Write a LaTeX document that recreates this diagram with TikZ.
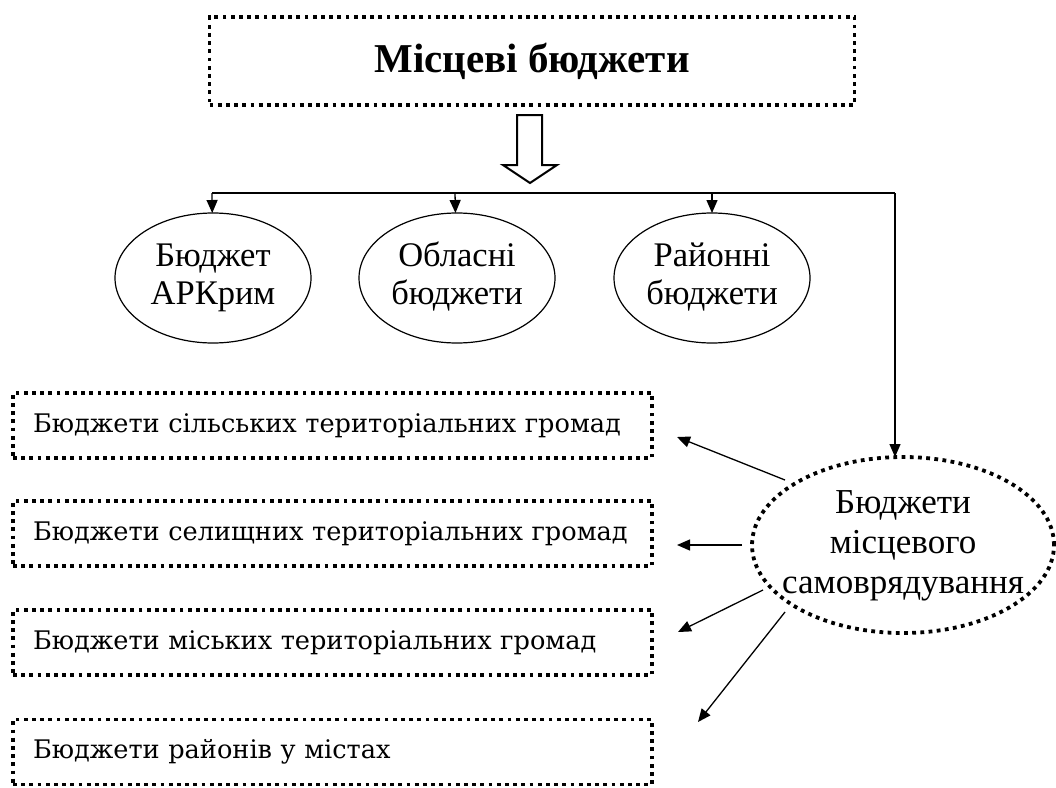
\documentclass[tikz,border=0pt]{standalone}
\usepackage{fontspec}
\setmainfont{Liberation Serif}
\newfontfamily\boxfont{DejaVu Serif}
\usetikzlibrary{shapes.geometric,arrows.meta}
\newcommand\elltext[1]{\makebox[0pt]{\vbox to 0pt{\vss\hbox{\begin{tabular}{@{}c@{}}#1\end{tabular}}\vss}}}
\begin{document}
\begin{tikzpicture}[x=1pt,y=-1pt,
  dotline/.style={line width=3.8pt, dash pattern=on 3.8pt off 4.4pt},
  topbox/.style={draw, dotline, rectangle, minimum width=645pt, minimum height=88pt, inner sep=0pt, outer sep=0pt, font=\fontsize{41}{48}\selectfont\bfseries},
  listbox/.style={draw, dotline, rectangle, minimum width=639pt, minimum height=65pt, inner xsep=20pt, inner ysep=0pt, text width=599pt, align=left, outer sep=0pt, font=\boxfont\fontsize{25.6}{30}\selectfont},
  smallell/.style={draw, ellipse, line width=1.2pt, minimum width=196pt, minimum height=130pt, inner sep=0pt, outer sep=0pt, font=\fontsize{34.5}{38}\selectfont},
  bigell/.style={draw, ellipse, dotline, minimum width=302pt, minimum height=176pt, inner sep=0pt, outer sep=0pt, font=\fontsize{35}{40}\selectfont},
  conn/.style={line width=1.3pt},
  arr/.style={conn, -{Triangle[length=13pt,width=11pt]}},
  hollow/.style={line width=2pt, fill=white, line join=miter}
]
\useasboundingbox (0,0) rectangle (1056,787);

\node[topbox] (top) at (532,61) {Місцеві бюджети};
\draw[hollow] (517,115) -- (542,115) -- (542,165) -- (557,165) -- (530,183) -- (503,165) -- (517,165) -- cycle;

\coordinate (j1) at (212,193);
\coordinate (j2) at (455,193);
\coordinate (j3) at (712,193);
\coordinate (j4) at (895,193);

\node[smallell] (e1) at (213,278) {\elltext{Бюджет\\АРКрим}};
\node[smallell] (e2) at (457,278) {\elltext{Обласні\\бюджети}};
\node[smallell] (e3) at (712,278) {\elltext{Районні\\бюджети}};

\node[bigell] (big) at (903,545) {\elltext{Бюджети\\місцевого\\самоврядування}};

\draw[conn] (j1) -- (j4);
\draw[arr] (j1) -- (e1);
\draw[arr] (j2) -- (e2);
\draw[arr] (j3) -- (e3);
\draw[arr] (j4) -- (j4 |- big.north);

\node[listbox] (b1) at (332.5,425.5) {Бюджети сільських територіальних громад};
\node[listbox] (b2) at (332.5,533.5) {Бюджети селищних територіальних громад};
\node[listbox] (b3) at (332.5,642.5) {Бюджети міських територіальних громад};
\node[listbox] (b4) at (332.5,752) {Бюджети районів у містах};

\coordinate (s1) at (785,480); \coordinate (t1) at (677,437);
\coordinate (s2) at (742,545); \coordinate (t2) at (677,545);
\coordinate (s3) at (763,590); \coordinate (t3) at (678,632);
\coordinate (s4) at (785,612); \coordinate (t4) at (698,722);
\draw[arr] (s1) -- (t1);
\draw[arr] (s2) -- (t2);
\draw[arr] (s3) -- (t3);
\draw[arr] (s4) -- (t4);
\end{tikzpicture}
\end{document}
